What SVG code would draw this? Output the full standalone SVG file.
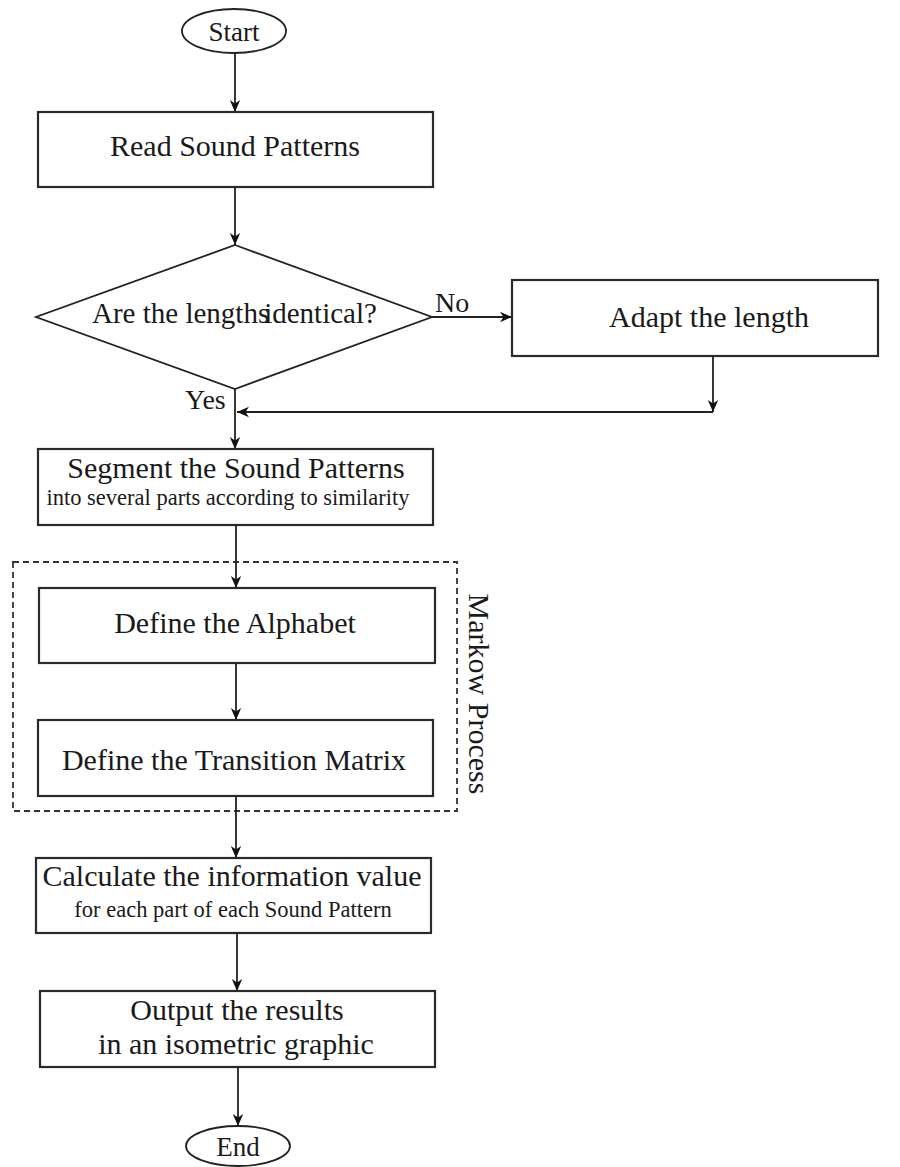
<svg xmlns="http://www.w3.org/2000/svg" width="900" height="1167" viewBox="0 0 900 1167">
  <style>
    .box { fill: #ffffff; stroke: #2a2a2a; stroke-width: 2.2; }
    .shape { fill: #ffffff; stroke: #222222; stroke-width: 1.8; }
    .conn { fill: none; stroke: #222222; stroke-width: 1.8; marker-end: url(#arrow); }
    .dash { fill: none; stroke: #333333; stroke-width: 1.8; stroke-dasharray: 6 4; }
    .t { font-family: "Liberation Serif", "Times New Roman", serif; font-size: 30px; fill: #1a1a1a; text-anchor: middle; }
    .s { font-family: "Liberation Serif", "Times New Roman", serif; font-size: 22.5px; fill: #1a1a1a; text-anchor: middle; }
    .lbl { font-family: "Liberation Serif", "Times New Roman", serif; font-size: 28px; fill: #1a1a1a; }
  </style>
  <defs>
    <marker id="arrow" markerUnits="userSpaceOnUse" markerWidth="14" markerHeight="12" refX="12" refY="6" orient="auto">
      <path d="M0,0.8 L12,6 L0,11.2 L3.5,6 Z" fill="#111111"/>
    </marker>
  </defs>

  <rect width="900" height="1167" fill="#ffffff"/>

  <g id="group-markow">
    <rect class="dash" x="13" y="562" width="444" height="249"/>
    <text class="t" transform="translate(469,694) rotate(90)">Markow Process</text>
  </g>

  <g id="connectors">
    <line class="conn" x1="235" y1="53" x2="235" y2="112"/>
    <line class="conn" x1="235" y1="187" x2="235" y2="245"/>
    <line class="conn" x1="432" y1="317" x2="512" y2="317"/>
    <line class="conn" x1="713" y1="356" x2="713" y2="412"/>
    <line class="conn" x1="713" y1="412" x2="237" y2="412"/>
    <line class="conn" x1="235" y1="389" x2="235" y2="449"/>
    <line class="conn" x1="236" y1="525" x2="236" y2="588"/>
    <line class="conn" x1="236" y1="663" x2="236" y2="720"/>
    <line class="conn" x1="236" y1="796" x2="236" y2="858"/>
    <line class="conn" x1="237" y1="933" x2="237" y2="991"/>
    <line class="conn" x1="238" y1="1067" x2="238" y2="1126"/>
    <text class="lbl" x="435" y="312">No</text>
    <text class="lbl" x="185" y="409">Yes</text>
  </g>

  <g id="start">
    <ellipse class="shape" cx="234" cy="31" rx="52" ry="22"/>
    <text class="t" x="234" y="41" style="font-size:27px">Start</text>
  </g>

  <g id="read">
    <rect class="box" x="38" y="112" width="395" height="75"/>
    <text class="t" x="235" y="156">Read Sound Patterns</text>
  </g>

  <g id="decision">
    <polygon class="shape" points="235,245 432,317 235,389 36,317"/>
    <text class="lbl" x="92" y="323" style="font-size:29px">Are the lengths<tspan dx="-5">identical?</tspan></text>
  </g>

  <g id="adapt">
    <rect class="box" x="512" y="280" width="366" height="76"/>
    <text class="t" x="709" y="327">Adapt the length</text>
  </g>

  <g id="segment">
    <rect class="box" x="38" y="449" width="395" height="76"/>
    <text class="t" x="236" y="478">Segment the Sound Patterns</text>
    <text class="s" x="228" y="505">into several parts according to similarity</text>
  </g>

  <g id="alphabet">
    <rect class="box" x="39" y="588" width="396" height="75"/>
    <text class="t" x="235" y="633">Define the Alphabet</text>
  </g>

  <g id="transition">
    <rect class="box" x="38" y="720" width="395" height="76"/>
    <text class="t" x="234" y="770">Define the Transition Matrix</text>
  </g>

  <g id="calculate">
    <rect class="box" x="36" y="858" width="395" height="75"/>
    <text class="t" x="232" y="886">Calculate the information value</text>
    <text class="s" x="233" y="917">for each part of each Sound Pattern</text>
  </g>

  <g id="output">
    <rect class="box" x="40" y="991" width="395" height="76"/>
    <text class="t" x="237" y="1020">Output the results</text>
    <text class="t" x="236" y="1054">in an isometric graphic</text>
  </g>

  <g id="end">
    <ellipse class="shape" cx="238" cy="1146" rx="52" ry="20"/>
    <text class="t" x="238" y="1156" style="font-size:27px">End</text>
  </g>
</svg>
